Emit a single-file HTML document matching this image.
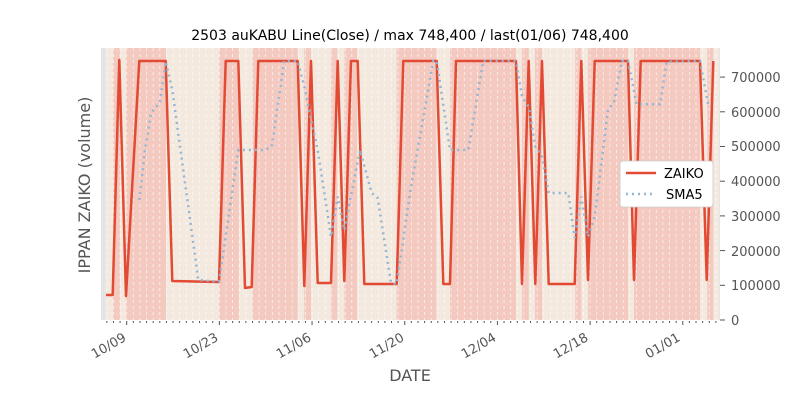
<!DOCTYPE html>
<html><head><meta charset="utf-8"><style>
body{margin:0;background:#fff}
svg{display:block;font-family:"DejaVu Sans","Liberation Sans",sans-serif}
</style></head><body>
<svg id="s" width="800" height="400" viewBox="0 0 800 400">
<rect x="101" y="48" width="619" height="272" fill="#e5e5e5"/>
<rect x="106" y="48" width="613" height="272" fill="#f3e9df"/>
<g fill="#f3c9c0">
<rect x="113" y="48" width="7" height="272"/>
<rect x="126" y="48" width="40" height="272"/>
<rect x="219" y="48" width="20" height="272"/>
<rect x="252.3" y="48" width="45.4" height="272"/>
<rect x="304.3" y="48" width="6.7" height="272"/>
<rect x="331" y="48" width="6.3" height="272"/>
<rect x="344.3" y="48" width="12.7" height="272"/>
<rect x="396.7" y="48" width="39.6" height="272"/>
<rect x="450" y="48" width="66" height="272"/>
<rect x="522" y="48" width="6.7" height="272"/>
<rect x="535" y="48" width="7" height="272"/>
<rect x="575.3" y="48" width="6" height="272"/>
<rect x="588" y="48" width="40" height="272"/>
<rect x="634" y="48" width="66" height="272"/>
<rect x="707.3" y="48" width="6" height="272"/>
</g>
<g id="grid" stroke="#fff" stroke-width="0.8" stroke-dasharray="3,3" opacity="0.8"></g>
<g id="ticks" stroke="#555" stroke-width="1"></g>
<polyline fill="none" stroke="#e24a33" stroke-width="2.5" stroke-linejoin="round" points="106,295 112.7,295 119.3,60 126,296 139.3,61 165.7,61 172.3,281 219,282 225.7,61 238.3,61 245,288 251.7,287 258.3,61 297.7,61 304.3,286 311,61 317.7,283 331,283 337.7,61 344.3,281 351,61 357.7,61 364.3,284 396.7,284 403.3,61 436.7,61 443.3,284 450,284 456,61 516,61 522,284 528.7,61 535.3,284 542,61 548.7,284 574.7,284 581.3,61 588,280 594.7,61 628,61 634,280 640.7,61 700,61 706.7,280 713.3,61"/>
<polyline fill="none" stroke="#92b6d4" stroke-width="2.5" stroke-dasharray="2,4" points="139.3,200 145,150 151,113 160,102 165.7,61.7 172.3,90 198.3,280 219,281.7 238.3,150 265,150 271.7,146.7 284.3,60.7 297.7,61 304.3,86.7 317.7,150 331,236.7 337.7,196.7 344.3,230 360,150 371.7,193 377.7,198 391,283 396.7,284 410,193 433.3,60.7 436.7,61 450,150 468.3,150 483.3,60.7 516,61 522,96.7 528.7,106.7 535.3,146.7 542,156.7 548.7,193 568.3,193 574.7,238 581.3,196.7 588,236.7 594.7,216.7 608,110 614,101.7 622,60.7 628,60.7 636.7,104.3 660,104.3 666.7,61.7 700,61 708.3,105"/>
<text x="410" y="40" font-size="14" text-anchor="middle" fill="#000">2503 auKABU Line(Close) / max 748,400 / last(01/06) 748,400</text>
<g font-size="13" fill="#555">
<text x="731" y="325">0</text><text x="731" y="290">100000</text><text x="731" y="256">200000</text><text x="731" y="221">300000</text><text x="731" y="186">400000</text><text x="731" y="151">500000</text><text x="731" y="117">600000</text><text x="731" y="82">700000</text>
<text transform="translate(127,340) rotate(-30)" text-anchor="end">10/09</text>
<text transform="translate(219,340) rotate(-30)" text-anchor="end">10/23</text>
<text transform="translate(312,340) rotate(-30)" text-anchor="end">11/06</text>
<text transform="translate(405,340) rotate(-30)" text-anchor="end">11/20</text>
<text transform="translate(497,340) rotate(-30)" text-anchor="end">12/04</text>
<text transform="translate(589,340) rotate(-30)" text-anchor="end">12/18</text>
<text transform="translate(681,340) rotate(-30)" text-anchor="end">01/01</text>
</g>
<text x="410" y="381" font-size="16" text-anchor="middle" fill="#555">DATE</text>
<text transform="translate(90,185) rotate(-90)" font-size="16" text-anchor="middle" fill="#555">IPPAN ZAIKO (volume)</text>
<rect x="620" y="161" width="93" height="46" rx="3" fill="#fff" stroke="#ccc" stroke-width="0.8"/>
<line x1="626" y1="173" x2="656" y2="173" stroke="#e24a33" stroke-width="2.5"/>
<line x1="626" y1="194" x2="656" y2="194" stroke="#92b6d4" stroke-width="2.5" stroke-dasharray="2,4"/>
<text x="664" y="178" font-size="13" fill="#000">ZAIKO</text>
<text x="666" y="199" font-size="13" fill="#000">SMA5</text>
</svg>
<script>
var g=document.getElementById('grid'),t=document.getElementById('ticks'),ns='http://www.w3.org/2000/svg';
for(var d=-3;d<=89;d++){var x=126.7+d*6.62;
var l=document.createElementNS(ns,'line');l.setAttribute('x1',x);l.setAttribute('x2',x);l.setAttribute('y1',48);l.setAttribute('y2',320);g.appendChild(l);
var k=document.createElementNS(ns,'line');var maj=(d%14==0);k.setAttribute('x1',x);k.setAttribute('x2',x);k.setAttribute('y1',321);k.setAttribute('y2',maj?325:323);t.appendChild(k);}
for(var i=0;i<8;i++){var y=320-i*34.7;var k=document.createElementNS(ns,'line');k.setAttribute('x1',720);k.setAttribute('x2',725);k.setAttribute('y1',y);k.setAttribute('y2',y);t.appendChild(k);}
</script>
</body></html>
